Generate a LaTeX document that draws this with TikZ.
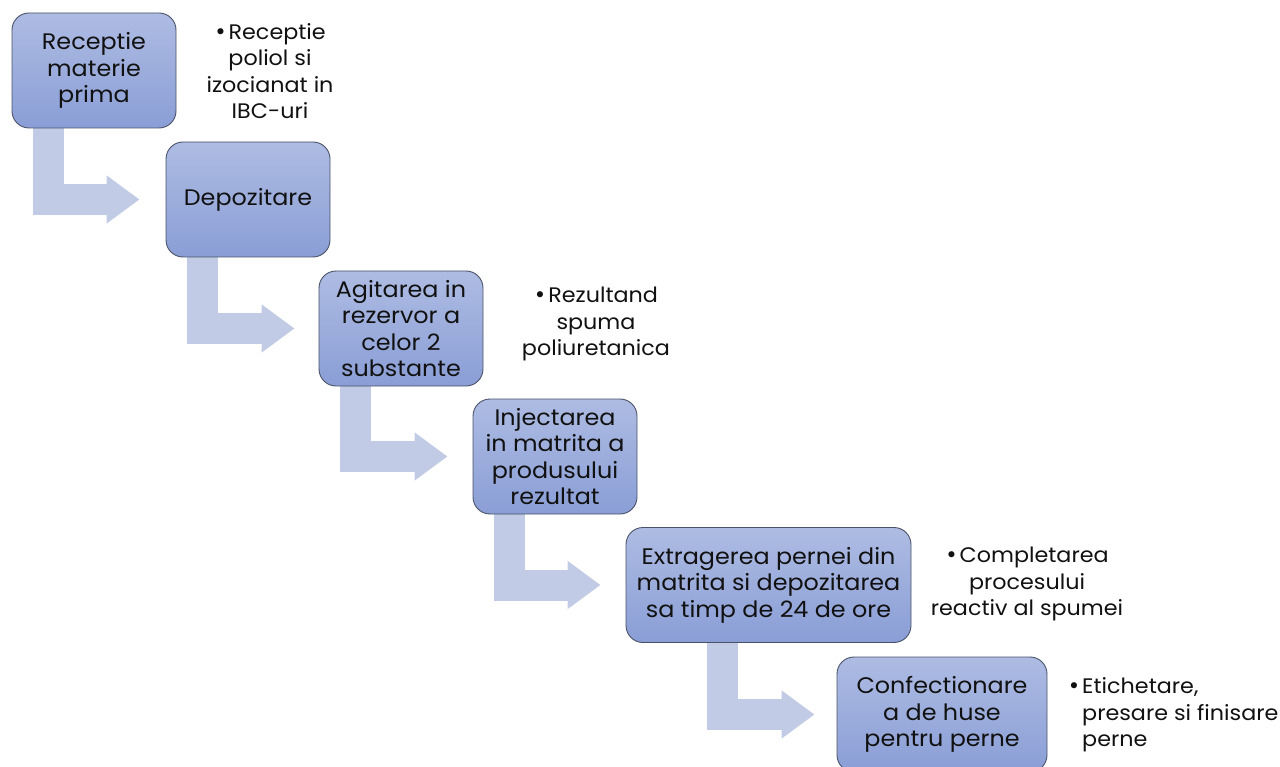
\documentclass[tikz,border=0pt]{standalone}
\usepackage{fontspec}
\setmainfont{Poppins}[FakeStretch=1.06]
\newfontfamily\bulfont{DejaVu Sans}
\newcommand{\bul}{{\bulfont •}\kern2pt}
\usetikzlibrary{arrows.meta,backgrounds}
\definecolor{boxtop}{HTML}{AEBCE3}
\definecolor{boxbot}{HTML}{8A9ED6}
\definecolor{boxline}{HTML}{4A5268}
\definecolor{arrowcol}{HTML}{C1CBE5}
\definecolor{txt}{HTML}{111111}
\tikzset{
  stepbox/.style={draw=boxline, line width=0.9pt, rounded corners=17pt,
    top color=boxtop, bottom color=boxbot, minimum height=115pt,
    align=center, text=txt, font=\fontsize{22.5pt}{26.5pt}\selectfont, inner sep=0pt},
  sidetext/.style={align=center, text=txt, font=\fontsize{21pt}{26.5pt}\selectfont, inner sep=0pt},
  flow/.style={draw=arrowcol, line width=31pt, line join=miter,
    -{Triangle[length=33pt,width=46pt]}},
}
\begin{document}
\begin{tikzpicture}[x=1pt,y=-1pt]
\useasboundingbox (0,0) rectangle (1280,767);
\clip (0,0) rectangle (1280,767);
% boxes
\path
 (94,70.5)   node[stepbox, minimum width=164pt] (b1) {Receptie\\materie\\prima}
 (248,199.5) node[stepbox, minimum width=164pt] (b2) {Depozitare}
 (401,328.5) node[stepbox, minimum width=164pt] (b3) {Agitarea in\\rezervor a\\celor 2\\substante}
 (555,456.5) node[stepbox, minimum width=164pt] (b4) {Injectarea\\in matrita a\\produsului\\rezultat}
 (768.5,585) node[stepbox, minimum width=285pt] (b5) {Extragerea pernei din\\matrita si depozitarea\\sa timp de 24 de ore}
 (942,714.5) node[stepbox, minimum width=210pt] (b6) {Confectionare\\a de huse\\pentru perne};
% arrows behind the boxes
\begin{scope}[on background layer]
\draw[flow] ([xshift=-46pt]b1.south) |- ([xshift=-26pt]b2.west);
\draw[flow] ([xshift=-46pt]b2.south) |- ([xshift=-24pt]b3.west);
\draw[flow] ([xshift=-46pt]b3.south) |- ([xshift=-25pt]b4.west);
\draw[flow] ([xshift=-46pt]b4.south) |- ([xshift=-25pt]b5.west);
\draw[flow] ([xshift=-46pt]b5.south) |- ([xshift=-22pt]b6.west);
\end{scope}
% side texts
\node[sidetext] (t1) at (270,71) {\bul Receptie\\poliol si\\izocianat in\\IBC-uri};
\node[sidetext] (t2) at (596,324) {\bul Rezultand\\spuma\\poliuretanica};
\node[sidetext] (t3) at (1027,584) {\bul Completarea\\procesului\\reactiv al spumei};
\node[sidetext, align=left, anchor=west] (t4) at (1082,715) {\llap{\bul}Etichetare,\\presare si finisare\\perne};
\end{tikzpicture}
\end{document}
